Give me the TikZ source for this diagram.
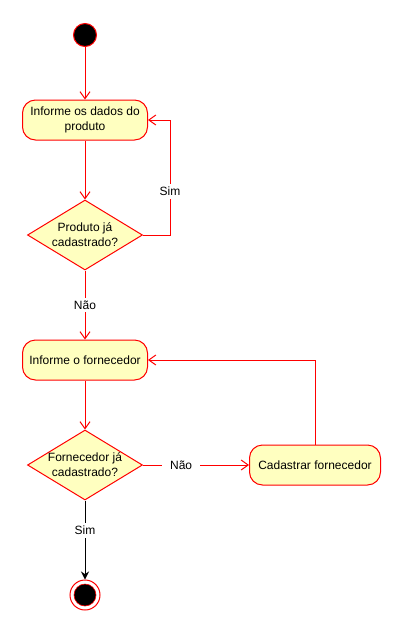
\documentclass[tikz,border=0pt]{standalone}
\usepackage{fontspec}
\setmainfont{Liberation Sans}
\usetikzlibrary{arrows.meta,shapes.geometric}
\definecolor{actfill}{HTML}{FFFFC0}

\begin{document}
\begin{tikzpicture}[x=1pt,y=-1pt,line width=1pt,
  font=\fontsize{12}{15}\selectfont,
  action/.style={draw=red,fill=actfill,rounded corners=13pt,minimum width=125pt,minimum height=40pt,align=center,inner sep=2pt},
  decision/.style={draw=red,fill=actfill,diamond,minimum width=115pt,minimum height=70pt,inner sep=0pt},
  flow/.style={draw=red,-{Straight Barb[length=7pt,width=10pt]}},
  lbl/.style={fill=white,inner xsep=8pt,inner ysep=3pt}]

\useasboundingbox (0,0) rectangle (401,632);

\node[circle,fill=black,draw=red,minimum size=23pt,inner sep=0pt] (start) at (85,35) {};

\node[action] (b1) at (85,120) {Informe os dados do\\produto};
\node[decision] (d1) at (85,235) {};
\node[align=center] (d1txt) at (d1) {Produto já\\cadastrado?};

\node[action] (b2) at (85,360) {Informe o fornecedor};
\node[decision] (d2) at (85,465) {};
\node[align=center] (d2txt) at (d2) {Fornecedor já\\cadastrado?};
\node[action,minimum width=131pt] (b3) at (315,465) {Cadastrar fornecedor};

\node[circle,draw=red,fill=white,minimum size=30pt,inner sep=0pt] (end) at (85,595) {};
\node[circle,fill=black,draw=red,line width=0.6pt,minimum size=22pt,inner sep=0pt] (endin) at (end) {};

\coordinate (c1) at (170,120);

\draw[flow] (start) -- (b1);
\draw[flow] (b1) -- (d1);
\draw[flow] (d1.east) -| node[lbl,pos=0.69] {Sim} (c1) -- (b1.east);
\draw[flow] (d1) -- node[lbl] {Não} (b2);
\draw[flow] (b2) -- (d2);
\draw[flow] (d2) -- node[lbl,pos=0.36] {Não} (b3);
\draw[flow] (b3.north) |- (b2.east);
\draw[black,-{Stealth[length=8pt,width=8pt]}] (d2) -- node[lbl,pos=0.38] {Sim} (end);

\end{tikzpicture}
\end{document}
